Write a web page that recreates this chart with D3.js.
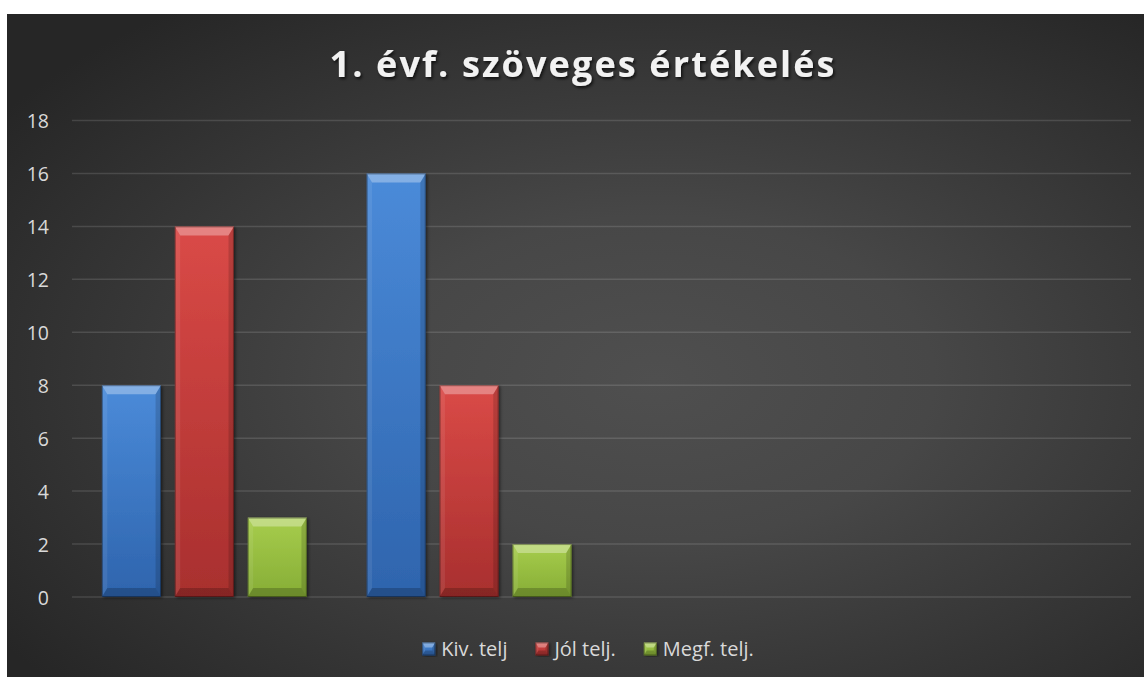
<!DOCTYPE html>
<meta charset="utf-8">
<style>
body { margin: 0; background: #fff; }
svg { display: block; }
.tick text { font: 19.5px "Open Sans", sans-serif; fill: #d9d9d9; }
.legend text { font: 20px "Open Sans", sans-serif; fill: #d9d9d9; }
.title { font: bold 36px "Open Sans", sans-serif; fill: #f2f2f2; text-anchor: middle; }
</style>
<body>
<svg width="1145" height="677"></svg>
<script src="https://cdn.jsdelivr.net/npm/d3@7"></script>
<script>
var categories = ["1", "2", "3", "4"];
var series = ["Kiv. telj", "Jól telj.", "Megf. telj."];
var kivTelj = [8, 16, null, null];
var jolTelj = [14, 8, null, null];
var megfTelj = [3, 2, null, null];
var yTicks = [0, 2, 4, 6, 8, 10, 12, 14, 16, 18];
var colors = [["#4b8bd9", "#2e64ad"], ["#da4a47", "#a82f2e"], ["#a7cd4c", "#86ad36"]];

var values = [kivTelj, jolTelj, megfTelj];

var svg = d3.select("svg");
var defs = svg.append("defs");

var bg = defs.append("radialGradient").attr("id", "bg")
  .attr("cx", "57%").attr("cy", "55%").attr("r", "70%");
bg.append("stop").attr("offset", "0%").attr("stop-color", "#4f4f4f");
bg.append("stop").attr("offset", "35%").attr("stop-color", "#474747");
bg.append("stop").attr("offset", "100%").attr("stop-color", "#262626");

colors.forEach(function(c, i) {
  var g = defs.append("linearGradient").attr("id", "bar" + i)
    .attr("x1", 0).attr("y1", 0).attr("x2", 0).attr("y2", 1);
  g.append("stop").attr("offset", "0%").attr("stop-color", c[0]);
  g.append("stop").attr("offset", "100%").attr("stop-color", c[1]);
});

var shadow = defs.append("filter").attr("id", "tshadow")
  .attr("x", "-10%").attr("y", "-30%").attr("width", "120%").attr("height", "160%");
shadow.append("feDropShadow").attr("dx", 1.5).attr("dy", 2).attr("stdDeviation", 1.5)
  .attr("flood-color", "#000").attr("flood-opacity", 0.7);

var bshadow = defs.append("filter").attr("id", "bshadow")
  .attr("x", "-10%").attr("y", "-10%").attr("width", "130%").attr("height", "120%");
bshadow.append("feDropShadow").attr("dx", 1.5).attr("dy", 1).attr("stdDeviation", 1.5)
  .attr("flood-color", "#000").attr("flood-opacity", 0.5);

svg.append("rect").attr("x", 7).attr("y", 14).attr("width", 1137).attr("height", 663)
  .attr("fill", "url(#bg)");

svg.append("text").attr("class", "title")
  .attr("x", 582).attr("y", 77)
  .attr("textLength", 505).attr("lengthAdjust", "spacing")
  .attr("filter", "url(#tshadow)")
  .text("1. évf. szöveges értékelés");

var plotLeft = 72, plotRight = 1131, plotTop = 120.5, plotBottom = 597;

var y = d3.scaleLinear().domain([0, 18]).range([plotBottom, plotTop]);
var x0 = d3.scaleBand().domain(categories).range([plotLeft, plotRight]);
var x1 = d3.scaleBand().domain(series).range([0, x0.bandwidth()])
  .paddingInner(0.19).paddingOuter(0.41);

// gridlines
svg.append("g").selectAll("line").data(yTicks).enter().append("line")
  .attr("x1", plotLeft).attr("x2", plotRight)
  .attr("y1", function(d) { return y(d); }).attr("y2", function(d) { return y(d); })
  .attr("stroke", "rgba(255,255,255,0.13)").attr("stroke-width", 1.5);

var yAxis = svg.append("g").attr("transform", "translate(49,0)")
  .call(d3.axisLeft(y).tickValues(yTicks).tickSize(0).tickPadding(0));
yAxis.select(".domain").remove();
yAxis.selectAll("text").attr("dy", "0.36em");

function bevel(g, x, yTop, w, h, i, b) {
  g.append("rect").attr("x", x).attr("y", yTop).attr("width", w).attr("height", h)
    .attr("fill", "url(#bar" + i + ")").attr("filter", "url(#bshadow)");
  var s = Math.min(b, h / 2), sx = Math.min(b * 0.6, w / 2);
  var pts = [
    [[x, yTop], [x + w, yTop], [x + w - sx, yTop + s], [x + sx, yTop + s], "rgba(255,255,255,0.32)"],
    [[x, yTop], [x + sx, yTop + s], [x + sx, yTop + h - s], [x, yTop + h], "rgba(255,255,255,0.08)"],
    [[x + w, yTop], [x + w - sx, yTop + s], [x + w - sx, yTop + h - s], [x + w, yTop + h], "rgba(0,0,0,0.15)"],
    [[x, yTop + h], [x + sx, yTop + h - s], [x + w - sx, yTop + h - s], [x + w, yTop + h], "rgba(0,0,0,0.2)"]
  ];
  pts.forEach(function(p) {
    g.append("polygon").attr("points", p.slice(0, 4).map(function(q) { return q.join(","); }).join(" "))
      .attr("fill", p[4]);
  });
  g.append("rect").attr("x", x + 0.5).attr("y", yTop + 0.5).attr("width", w - 1).attr("height", h - 1)
    .attr("fill", "none").attr("stroke", "rgba(0,0,0,0.35)").attr("stroke-width", 1);
}

var groups = svg.append("g").selectAll("g").data(categories).enter().append("g")
  .attr("transform", function(d) { return "translate(" + x0(d) + ",0)"; });

groups.each(function(cat, ci) {
  var g = d3.select(this);
  series.forEach(function(s, si) {
    var v = values[si][ci];
    if (v == null) return;
    bevel(g, x1(s), y(v), x1.bandwidth(), y(0) - y(v), si, 9);
  });
});

// legend
var legend = svg.append("g").attr("class", "legend");
var lx = 0;
series.forEach(function(s, i) {
  var it = legend.append("g");
  bevel(it, 0, -6.5, 13, 13, i, 5);
  var t = it.append("text").attr("x", 19).attr("dy", "0.36em").text(s);
  var w = 19 + t.node().getComputedTextLength();
  it.attr("transform", "translate(" + lx + ",0)");
  lx += w + 28;
});
lx -= 28;
legend.attr("transform", "translate(" + (588 - lx / 2) + ",649)");
</script>
</body>
